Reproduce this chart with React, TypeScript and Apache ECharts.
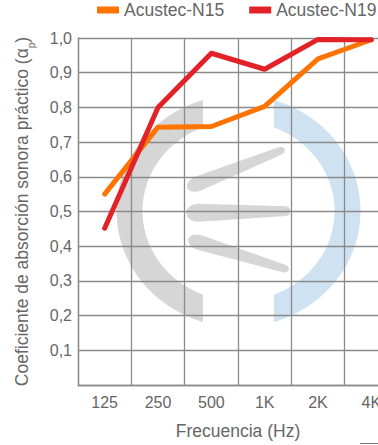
import React, { useEffect, useRef } from "react";
import * as echarts from "echarts";

const categories = ["125", "250", "500", "1K", "2K", "4K"];
const seriesN15 = [0.55, 0.743, 0.745, 0.803, 0.94, 0.995];
const seriesN19 = [0.452, 0.8, 0.956, 0.91, 0.996, 0.995];
const seriesNames = ["Acustec-N15", "Acustec-N19"];
const yTicks = { min: 0, max: 1, interval: 0.1 };

const FONT = "'Liberation Sans', Arial, sans-serif";
const TXT = "#666666";

function ringHalf(cx: number, cy: number, ao: number, bo: number, ai: number, bi: number, cutDx: number, side: number) {
  const pts: number[][] = [];
  const N = 60;
  const po = Math.acos(cutDx / ao);
  const pi = Math.acos(cutDx / ai);
  for (let k = 0; k <= N; k++) {
    const p = -po + (2 * po * k) / N;
    pts.push([cx + side * -ao * Math.cos(p), cy + bo * Math.sin(p)]);
  }
  for (let k = N; k >= 0; k--) {
    const p = -pi + (2 * pi * k) / N;
    pts.push([cx + side * -ai * Math.cos(p), cy + bi * Math.sin(p)]);
  }
  return pts;
}

function blade(x1: number, y1: number, x2: number, y2: number, h1: number, h2: number) {
  const L = Math.hypot(x2 - x1, y2 - y1);
  const ux = (x2 - x1) / L, uy = (y2 - y1) / L;
  const nx = -uy, ny = ux;
  const s0 = 0.12, s1 = 0.06;
  const hw = (s: number) => {
    if (s < s0) { const t = (s0 - s) / s0; return h1 * Math.sqrt(Math.max(0, 1 - t * t)); }
    if (s > 1 - s1) { const t = (s - (1 - s1)) / s1; return h2 * Math.sqrt(Math.max(0, 1 - t * t)); }
    const t = (s - s0) / (1 - s0 - s1);
    return h1 + (h2 - h1) * t;
  };
  const N = 60;
  const top: number[][] = [], bot: number[][] = [];
  for (let k = 0; k <= N; k++) {
    const s = k / N;
    const h = hw(s);
    const px = x1 + ux * L * s, py = y1 + uy * L * s;
    top.push([px + nx * h, py + ny * h]);
    bot.push([px - nx * h, py - ny * h]);
  }
  return top.concat(bot.reverse());
}

export default function App() {
  const ref = useRef<HTMLDivElement>(null);
  useEffect(() => {
    if (!ref.current) return;
    const chart = echarts.init(ref.current, undefined, { renderer: "svg" });
    const cx = 238.5, cy = 211;
    const gray = "rgba(0,0,0,0.16)";
    const blue = "rgba(0,101,186,0.19)";
    const gridLine = { color: "#8a8a8a", width: 1.3 };
    const shapes = [
      { pts: ringHalf(cx, cy, 122, 116, 96, 90, 35.5, 1), fill: gray },
      { pts: ringHalf(cx, cy, 122, 116, 96, 90, 35.5, -1), fill: blue },
      { pts: blade(187, 188, 285, 149, 7.5, 4), fill: gray },
      { pts: blade(186, 213, 291, 211, 9, 5), fill: gray },
      { pts: blade(188, 239, 289, 270, 7.5, 4), fill: gray },
    ];
    chart.setOption({
      animation: false,
      textStyle: { fontFamily: FONT },
      legend: {
        left: 92,
        top: -4,
        itemWidth: 22,
        itemHeight: 7,
        itemGap: 25,
        icon: "rect",
        textStyle: { fontSize: 17.5, color: TXT, fontFamily: FONT },
        data: seriesNames,
      },
      grid: { left: 78, top: 38, width: 320, height: 347 },
      xAxis: {
        type: "category",
        data: categories,
        boundaryGap: true,
        z: 5,
        axisLine: { show: true, lineStyle: gridLine },
        axisTick: { show: false },
        axisLabel: { fontSize: 16, color: TXT, margin: 9, fontFamily: FONT },
        splitLine: { show: true, lineStyle: gridLine },
        name: "Frecuencia (Hz)",
        nameLocation: "middle",
        nameGap: 37,
        nameTextStyle: { fontSize: 17.5, color: TXT, fontFamily: FONT },
      },
      yAxis: {
        type: "value",
        min: yTicks.min,
        max: yTicks.max,
        interval: yTicks.interval,
        z: 5,
        axisLine: { show: true, lineStyle: gridLine },
        axisTick: { show: false },
        axisLabel: {
          fontSize: 16,
          color: TXT,
          margin: 6,
          fontFamily: FONT,
          formatter: (v: number) => (v === 0 ? "" : v.toFixed(1).replace(".", ",")),
        },
        splitLine: { show: true, lineStyle: gridLine },
        name: "{m|Coeficiente de absorción sonora práctico (α}{s|p}{m|)}",
        nameLocation: "middle",
        nameGap: 42,
        nameTextStyle: {
          color: TXT,
          rich: {
            m: { fontSize: 17.5, color: TXT, fontFamily: FONT, lineHeight: 28 },
            s: { fontSize: 10, color: TXT, fontFamily: FONT, lineHeight: 10, verticalAlign: "bottom" },
          },
        },
      },
      graphic: [
        { type: "line", silent: true, shape: { x1: 360, y1: 443.5, x2: 410, y2: 443.5 }, style: { stroke: "#777", lineWidth: 1 } },
      ],
      series: [
        {
          type: "custom",
          name: "watermark",
          silent: true,
          z: 1,
          data: [[0, 0]],
          legendHoverLink: false,
          renderItem: () => ({
            type: "group",
            children: shapes.map((s) => ({
              type: "polygon",
              shape: { points: s.pts },
              style: { fill: s.fill },
            })),
          }),
        },
        {
          name: seriesNames[0],
          type: "line",
          data: seriesN15,
          showSymbol: false,
          symbol: "none",
          color: "#ff7300",
          lineStyle: { width: 5, color: "#ff7300", cap: "round", join: "round" },
          z: 10,
        },
        {
          name: seriesNames[1],
          type: "line",
          data: seriesN19,
          showSymbol: false,
          symbol: "none",
          color: "#e32228",
          lineStyle: { width: 5, color: "#e32228", cap: "round", join: "round" },
          z: 11,
        },
      ],
    });
    return () => chart.dispose();
  }, []);
  return (
    <div style={{ position: "absolute", left: 0, top: 0, width: 378, height: 445, overflow: "hidden", background: "#fff" }}>
      <div ref={ref} style={{ width: 410, height: 445 }} />
    </div>
  );
}
